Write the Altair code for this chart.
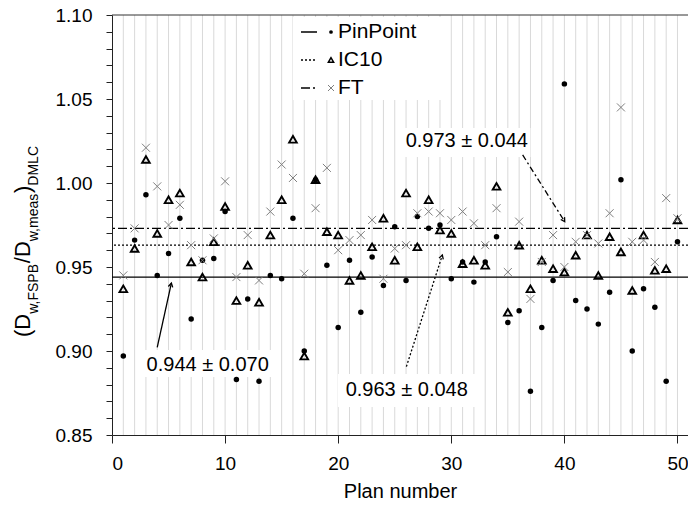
import math
import altair as alt
import pandas as pd

# ---------------- data ----------------
plans = list(range(1, 51))
pinpoint = [0.897, 0.966, 0.993, 0.945, 0.958, 0.979, 0.919, 0.954, 0.955, 0.983,
            0.883, 0.931, 0.882, 0.945, 0.943, 0.979, 0.900, 1.002, 0.951, 0.914,
            0.954, 0.923, 0.956, 0.939, 0.974, 0.942, 0.980, 0.973, 0.975, 0.943,
            0.953, 0.941, 0.953, 0.968, 0.917, 0.924, 0.876, 0.914, 0.942, 1.059,
            0.930, 0.925, 0.916, 0.935, 1.002, 0.900, 0.937, 0.926, 0.882, 0.965]
ic10 = [0.937, 0.961, 1.014, 0.970, 0.990, 0.994, 0.953, 0.944, 0.965, 0.986,
        0.930, 0.951, 0.929, 0.969, 0.990, 1.026, 0.897, 1.002, 0.971, 0.969,
        0.942, 0.945, 0.962, 0.979, 0.954, 0.994, 0.962, 0.990, 0.972, 0.970,
        0.952, 0.954, 0.951, 0.998, 0.923, 0.963, 0.937, 0.954, 0.949, 0.947,
        0.957, 0.969, 0.945, 0.968, 0.959, 0.936, 0.969, 0.948, 0.949, 0.978]
ft = [0.945, 0.973, 1.021, 0.998, 0.975, 0.987, 0.963, 0.954, 0.967, 1.001,
      0.944, 0.969, 0.942, 0.983, 1.011, 1.003, 0.946, 0.985, 1.009, 0.960,
      0.966, 0.969, 0.978, 0.943, 0.961, 0.963, 0.982, 0.983, 0.982, 0.978,
      0.983, 0.976, 0.963, 0.985, 0.947, 0.977, 0.931, 0.953, 0.969, 0.950,
      0.965, 0.969, 0.964, 0.982, 1.045, 0.965, 0.966, 0.953, 0.991, 0.979]

series_names = ["PinPoint", "IC10", "FT"]
mean_values = [0.944, 0.963, 0.973]
mean_labels = ["0.944 ± 0.070", "0.963 ± 0.048", "0.973 ± 0.044"]

# annotation anchors in data units (plan number, ratio)
label_x = [8.46, 26.06, 31.37]
label_y = [0.8917, 0.8768, 1.025]
arrow_x1 = [4.0, 26.03, 36.31]
arrow_y1 = [0.9022, 0.8907, 1.0167]
arrow_x2 = [5.25, 29.21, 40.03]
arrow_y2 = [0.9404, 0.9571, 0.977]
box_x1 = [2.63, 19.97, 25.4, 16.0]
box_x2 = [14.2, 32.1, 37.0, 29.6]
box_y1 = [0.8845, 0.8667, 1.0155, 1.0494]
box_y2 = [0.9006, 0.8863, 1.0327, 1.0988]

x_ticks = [0, 10, 20, 30, 40, 50]
y_ticks = [round(0.85 + 0.01 * i, 2) for i in range(26)]

# ---------------- layout / style ----------------
FONT = "Liberation Sans"
W, H = 576, 420
XMAX = 50.93
YMIN, YMAX = 0.85, 1.10
xs = alt.Scale(domain=[0, XMAX], nice=False, zero=False)
ys = alt.Scale(domain=[YMIN, YMAX], nice=False, zero=False)

dashes = [[1, 0], [2, 2], [9, 3, 2, 3]]
arrow_dashes = [[1, 0], [2, 2], [6, 3, 2, 3]]
XPATH = "M-1,-1L1,1M1,-1L-1,1"
HEAD = "M-1,1.75L0,0L1,1.75"

df = pd.DataFrame({"plan": plans, "PinPoint": pinpoint, "IC10": ic10, "FT": ft})

XA = dict(values=x_ticks, format="d", grid=False, tickSize=8, labelPadding=11,
          labelFontSize=19, labelFont=FONT, labelColor="black",
          title="Plan number", titleFontSize=20, titleFont=FONT, titleFontWeight="normal",
          titleColor="black", titlePadding=8, domainColor="#222", tickColor="#222")
YA = dict(values=y_ticks, grid=False, tickSize=6, labelPadding=14,
          labelExpr="(round(datum.value*100) % 5 == 0) ? format(datum.value, '.2f') : ''",
          labelFontSize=19, labelFont=FONT, labelColor="black", title="",
          domainColor="#222", tickColor="#222")


def X(field):
    return alt.X(field, scale=xs, axis=alt.Axis(**XA))


def Y(field):
    return alt.Y(field, scale=ys, axis=alt.Axis(**YA))


layers = []

# vertical grid lines at every plan number
layers.append(
    alt.Chart(pd.DataFrame({"g": list(range(1, 51))})).mark_rule(
        color="#d9d9d9", strokeWidth=1
    ).encode(x=X("g:Q"))
)

# white boxes behind labels and legend
layers.append(
    alt.Chart(pd.DataFrame({"x1": box_x1, "x2": box_x2, "y1": box_y1, "y2": box_y2})).mark_rect(
        fill="white"
    ).encode(x=X("x1:Q"), x2="x2:Q", y=Y("y1:Q"), y2="y2:Q")
)

# mean lines
for i, v in enumerate(mean_values):
    layers.append(
        alt.Chart(pd.DataFrame({"m": [v]})).mark_rule(
            color="black", strokeWidth=1.3, strokeDash=dashes[i]
        ).encode(y=Y("m:Q"))
    )

# top frame
layers.append(
    alt.Chart(pd.DataFrame({"t": [YMAX]})).mark_rule(color="#333", strokeWidth=1).encode(y=Y("t:Q"))
)

# arrows
pxx = W / XMAX
pxy = H / (YMAX - YMIN)
for i in range(3):
    dx = (arrow_x2[i] - arrow_x1[i]) * pxx
    dy = -(arrow_y2[i] - arrow_y1[i]) * pxy
    ang = math.degrees(math.atan2(dx, -dy)) % 360
    adf = pd.DataFrame({"x1": [arrow_x1[i]], "y1": [arrow_y1[i]], "x2": [arrow_x2[i]], "y2": [arrow_y2[i]]})
    layers.append(
        alt.Chart(adf).mark_rule(color="black", strokeWidth=1.3, strokeDash=arrow_dashes[i]).encode(
            x=X("x1:Q"), y=Y("y1:Q"), x2="x2:Q", y2="y2:Q"
        )
    )
    layers.append(
        alt.Chart(adf).mark_point(shape=HEAD, filled=False, stroke="black", strokeWidth=1.3,
                                  size=20, angle=ang, opacity=1).encode(x=X("x2:Q"), y=Y("y2:Q"))
    )

# data points
layers.append(
    alt.Chart(df).mark_point(shape="triangle-up", filled=False, stroke="black",
                             strokeWidth=1.9, size=58, opacity=1).encode(x=X("plan:Q"), y=Y("IC10:Q"))
)
layers.append(
    alt.Chart(df).mark_point(shape="circle", filled=True, color="black", size=30,
                             opacity=1).encode(x=X("plan:Q"), y=Y("PinPoint:Q"))
)
layers.append(
    alt.Chart(df).mark_point(shape=XPATH, filled=False, stroke="#7f7f7f", strokeWidth=1,
                             size=64, opacity=1).encode(x=X("plan:Q"), y=Y("FT:Q"))
)

# annotation labels
layers.append(
    alt.Chart(pd.DataFrame({"x": label_x, "y": label_y, "t": mean_labels})).mark_text(
        font=FONT, fontSize=20, color="black", align="center", baseline="middle"
    ).encode(x=X("x:Q"), y=Y("y:Q"), text="t:N")
)

# legend (pixel positions inside the plot area)
leg_y = [17, 45, 73]
leg_shapes = ["circle", "triangle-up", XPATH]
leg_fill = [True, False, False]
leg_col = ["black", "black", "#7f7f7f"]
leg_size = [14, 28, 36]
leg_sw = [1, 1.5, 1]
one = pd.DataFrame({"a": [0]})
for i, name in enumerate(series_names):
    layers.append(
        alt.Chart(one).mark_rule(color="black", strokeWidth=1.3, strokeDash=dashes[i]).encode(
            x=alt.value(189), x2=alt.value(205), y=alt.value(leg_y[i])
        )
    )
    layers.append(
        alt.Chart(one).mark_point(shape=leg_shapes[i], filled=leg_fill[i], color=leg_col[i],
                                  strokeWidth=leg_sw[i], size=leg_size[i], opacity=1).encode(
            x=alt.value(219), y=alt.value(leg_y[i])
        )
    )
    layers.append(
        alt.Chart(one).mark_text(text=name, font=FONT, fontSize=21, color="black",
                                 align="left", baseline="middle").encode(
            x=alt.value(226), y=alt.value(leg_y[i])
        )
    )

# y-axis title with subscripts, drawn as rotated text segments
AW = {'(': 0.333, ')': 0.333, 'D': 0.722, 'w': 0.722, ',': 0.278, 'F': 0.611, 'S': 0.667,
      'P': 0.667, 'B': 0.667, '/': 0.278, 'm': 0.833, 'e': 0.556, 'a': 0.556, 's': 0.5,
      'M': 0.833, 'L': 0.556, 'C': 0.722}
segments = [("(D", False), ("w,FSPB", True), ("/D", False), ("w,meas", True), (")", False), ("DMLC", True)]
MAIN_FS, SUB_FS = 22, 14
ypos = 322.0
for seg, sub in segments:
    fs = SUB_FS if sub else MAIN_FS
    layers.append(
        alt.Chart(one).mark_text(text=seg, font=FONT, fontSize=fs, color="black", angle=270,
                                 align="left", baseline="alphabetic").encode(
            x=alt.value(-74 if sub else -82), y=alt.value(ypos)
        )
    )
    ypos -= sum(AW.get(c, 0.6) for c in seg) * fs

chart = alt.layer(*layers).properties(
    width=W, height=H,
    autosize=alt.AutoSizeParams(type="none"),
    padding={"left": 112, "top": 15, "right": 0, "bottom": 70},
    background="white",
).configure_view(stroke=None)

chart.save("out.html", embed_options={"renderer": "svg", "actions": False})
